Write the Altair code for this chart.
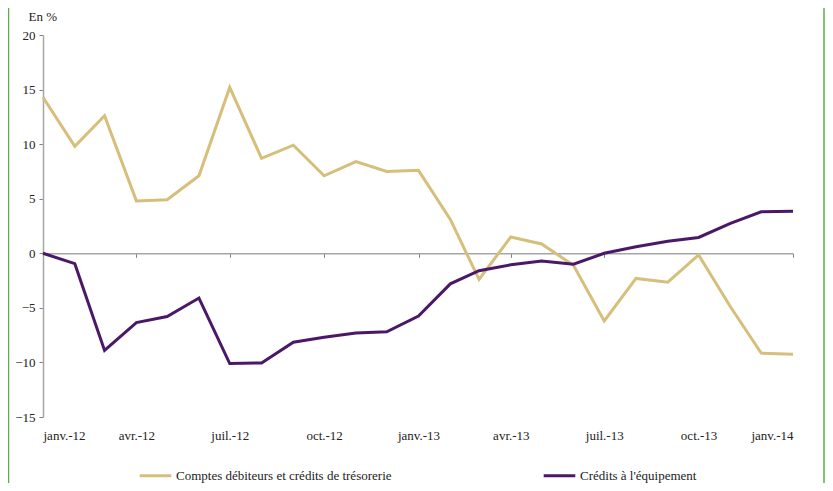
import altair as alt
import pandas as pd

months = pd.date_range("2012-01-01", "2014-01-01", freq="MS")
tresorerie = [14.3, 9.8, 12.6, 4.8, 4.9, 7.1, 15.2, 8.7, 9.9, 7.1, 8.4, 7.5, 7.6,
              3.1, -2.4, 1.5, 0.85, -1.1, -6.2, -2.3, -2.65, -0.15, -4.9, -9.15, -9.25]
equipement = [0.0, -0.95, -8.9, -6.35, -5.8, -4.1, -10.1, -10.05, -8.15, -7.7, -7.3, -7.2, -5.75,
              -2.8, -1.6, -1.05, -0.7, -1.0, 0.0, 0.6, 1.1, 1.45, 2.75, 3.8, 3.85]
series_names = ["Comptes débiteurs et crédits de trésorerie", "Crédits à l'équipement"]
series_colors = ["#D5BF7A", "#4B1868"]
quarter_labels = {"2012-01": "janv.-12", "2012-04": "avr.-12", "2012-07": "juil.-12",
                  "2012-10": "oct.-12", "2013-01": "janv.-13", "2013-04": "avr.-13",
                  "2013-07": "juil.-13", "2013-10": "oct.-13", "2014-01": "janv.-14"}
y_ticks = [-15, -10, -5, 0, 5, 10, 15, 20]

df = pd.concat([
    pd.DataFrame({"date": months, "val": tresorerie, "serie": series_names[0]}),
    pd.DataFrame({"date": months, "val": equipement, "serie": series_names[1]}),
])

W, H = 750, 382
FONT = "Liberation Serif"
quarter_dates = [pd.Timestamp(k + "-01") for k in quarter_labels]

label_expr = ("{" + ",".join(f"'{k}':'{v}'" for k, v in quarter_labels.items()) + "}"
              "[timeFormat(datum.value, '%Y-%m')]")

x_scale = alt.Scale(domain=[months[0].isoformat(), months[-1].isoformat()])
y_scale = alt.Scale(domain=[-15, 20], nice=False, zero=False)

zero_offset = -H * 15 / 35

lines = alt.Chart(df).mark_line(strokeWidth=3, strokeJoin="miter").encode(
    x=alt.X("date:T", scale=x_scale,
            axis=alt.Axis(values=[d.isoformat() for d in quarter_dates], labelExpr=label_expr,
                          domain=True, domainColor="#A6A6A6", domainWidth=1.5,
                          ticks=True, tickColor="#808080", tickSize=4,
                          offset=zero_offset, labelPadding=172, title=None,
                          labelFont=FONT, labelFontSize=13, labelColor="#222222",
                          grid=False)),
    y=alt.Y("val:Q", scale=y_scale,
            axis=alt.Axis(values=y_ticks, title="En %", titleAngle=0, titleFont=FONT,
                          titleFontSize=13, titleFontWeight="normal", titleColor="#222222",
                          titleX=-15, titleY=-12, titleAlign="left", titleBaseline="bottom",
                          labelFont=FONT, labelFontSize=13, labelColor="#222222",
                          labelPadding=4, tickSize=4, tickColor="#808080",
                          domainColor="#A6A6A6", domainWidth=1.5, grid=False)),
    color=alt.Color("serie:N", scale=alt.Scale(domain=series_names, range=series_colors),
                    legend=alt.Legend(title=None, orient="none", legendX=95, legendY=423,
                                      direction="horizontal", columns=2, columnPadding=145,
                                      symbolType="stroke", symbolSize=1000, symbolStrokeWidth=3,
                                      labelFont=FONT, labelFontSize=13, labelColor="#222222",
                                      labelOffset=3, labelLimit=400)),
    order=alt.Order("date:T"),
)

border_left = alt.Chart().mark_rule(color="#5BAF4A", strokeWidth=1.5, clip=False).encode(
    x=alt.value(-34.5), y=alt.value(-27), y2=alt.value(H + 66))
border_right = alt.Chart().mark_rule(color="#5BAF4A", strokeWidth=1.5, clip=False).encode(
    x=alt.value(781), y=alt.value(-27), y2=alt.value(H + 66))

chart = alt.layer(lines, border_left, border_right).properties(
    width=W, height=H,
    autosize=alt.AutoSizeParams(type="none"),
    padding={"left": 35, "top": 27, "right": 32, "bottom": 66},
).configure(background="white", font=FONT).configure_view(strokeOpacity=0, strokeWidth=0)

chart.save("out.html", embed_options={"renderer": "svg", "actions": False})
